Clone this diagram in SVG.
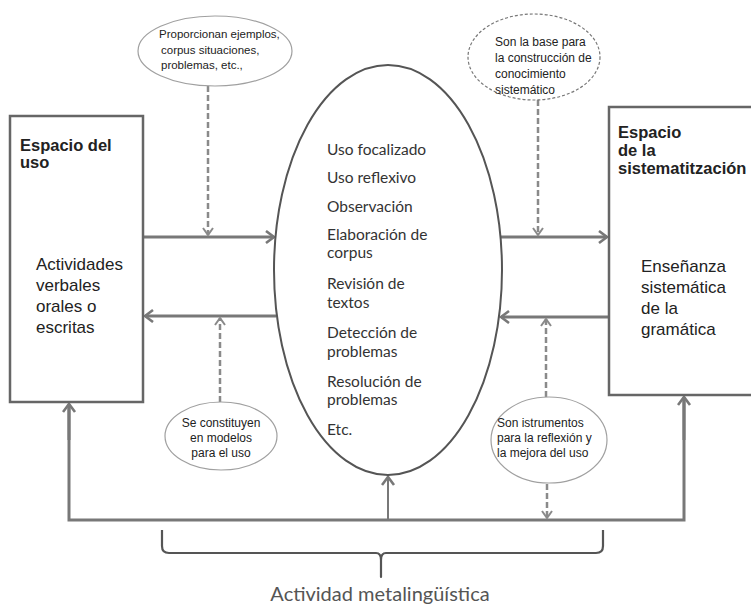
<svg xmlns="http://www.w3.org/2000/svg" width="751" height="606" viewBox="0 0 751 606">
<style>
.box{fill:#fff;stroke:#666;stroke-width:2.5}
.main{fill:#fff;stroke:#555;stroke-width:2}
.call{fill:#fff;stroke:#a0a0a0;stroke-width:1.2}
.calld{fill:#fff;stroke:#777;stroke-width:1.2;stroke-dasharray:3 2}
.sol{fill:none;stroke:#787878;stroke-width:3}
.thin{fill:none;stroke:#787878;stroke-width:2}
.dash{fill:none;stroke:#8a8a8a;stroke-width:2.5;stroke-dasharray:6 3}
.brace{fill:none;stroke:#555;stroke-width:2.2;stroke-linejoin:round}
.hd{font-family:"Liberation Sans",Arial,sans-serif;font-weight:bold;font-size:16.5px;fill:#222}
.bt{font-family:"Liberation Sans",Arial,sans-serif;font-size:17px;fill:#222}
.ct{font-family:"Liberation Sans",Arial,sans-serif;font-size:12px;fill:#222}
.et{font-family:Lato,"Open Sans",sans-serif;font-size:15.5px;fill:#333}
.lab{font-family:Lato,"Open Sans",sans-serif;font-size:20px;fill:#555}
</style>
<defs>
<marker id="ah" markerUnits="userSpaceOnUse" markerWidth="14" markerHeight="16" refX="11" refY="7" orient="auto">
<path d="M3,1 L11,7 L3,13" fill="none" stroke="#787878" stroke-width="2.6"/>
</marker>
<marker id="ahd" markerUnits="userSpaceOnUse" markerWidth="14" markerHeight="14" refX="10" refY="6" orient="auto">
<path d="M3,1 L10,6 L3,11" fill="none" stroke="#8a8a8a" stroke-width="2"/>
</marker>
</defs>

<g id="connectors">
<line class="sol" x1="144" y1="237" x2="274" y2="237" marker-end="url(#ah)"/>
<line class="sol" x1="276" y1="316" x2="145" y2="316" marker-end="url(#ah)"/>
<line class="sol" x1="501" y1="237" x2="607" y2="237" marker-end="url(#ah)"/>
<line class="sol" x1="608" y1="317" x2="501" y2="317" marker-end="url(#ah)"/>
<polyline class="sol" points="69,405 69,520 684,520 684,398" />
<line class="sol" x1="69" y1="440" x2="69" y2="404" marker-end="url(#ah)"/>
<line class="sol" x1="684" y1="440" x2="684" y2="397" marker-end="url(#ah)"/>
<line class="thin" x1="388" y1="520" x2="388" y2="477" marker-end="url(#ah)"/>
<line class="dash" x1="208" y1="86" x2="208" y2="235" marker-end="url(#ahd)"/>
<line class="dash" x1="538" y1="100" x2="538" y2="235" marker-end="url(#ahd)"/>
<line class="dash" x1="220" y1="402" x2="220" y2="318" marker-end="url(#ahd)"/>
<line class="dash" x1="546" y1="397" x2="546" y2="319" marker-end="url(#ahd)"/>
<line class="dash" x1="547" y1="484" x2="547" y2="518" marker-end="url(#ahd)"/>
</g>

<g id="espacio-uso">
<rect class="box" x="10" y="116" width="133" height="286"/>
<text class="hd" x="20" y="151">Espacio del</text>
<text class="hd" x="20" y="168">uso</text>
<text class="bt" x="36" y="270">Actividades</text>
<text class="bt" x="36" y="291">verbales</text>
<text class="bt" x="36" y="312">orales o</text>
<text class="bt" x="36" y="333">escritas</text>
</g>

<g id="espacio-sistematitzacion">
<rect class="box" x="609" y="107" width="160" height="288"/>
<text class="hd" x="618" y="138">Espacio</text>
<text class="hd" x="618" y="156">de la</text>
<text class="hd" x="618" y="174">sistematitzación</text>
<text class="bt" x="641" y="272">Enseñanza</text>
<text class="bt" x="641" y="293">sistemática</text>
<text class="bt" x="641" y="314">de la</text>
<text class="bt" x="641" y="335">gramática</text>
</g>

<g id="actividades-centro">
<ellipse class="main" cx="388" cy="270" rx="114" ry="205"/>
<text class="et" x="327" y="155">Uso focalizado</text>
<text class="et" x="327" y="183">Uso reflexivo</text>
<text class="et" x="327" y="212">Observación</text>
<text class="et" x="327" y="240">Elaboración de</text>
<text class="et" x="327" y="258">corpus</text>
<text class="et" x="327" y="289">Revisión de</text>
<text class="et" x="327" y="308">textos</text>
<text class="et" x="327" y="338">Detección de</text>
<text class="et" x="327" y="357">problemas</text>
<text class="et" x="327" y="387">Resolución de</text>
<text class="et" x="327" y="405">problemas</text>
<text class="et" x="327" y="435">Etc.</text>
</g>

<g id="nota-ejemplos">
<ellipse class="call" cx="215" cy="51" rx="77" ry="35"/>
<text class="ct" x="159" y="38" style="font-size:11.5px">Proporcionan ejemplos,</text>
<text class="ct" x="161" y="54" style="font-size:11.5px">corpus situaciones,</text>
<text class="ct" x="161" y="69" style="font-size:11.5px">problemas, etc.,</text>
</g>

<g id="nota-base">
<ellipse class="calld" cx="534" cy="57" rx="66" ry="43"/>
<text class="ct" x="495" y="46">Son la base para</text>
<text class="ct" x="495" y="62">la construcción de</text>
<text class="ct" x="495" y="78">conocimiento</text>
<text class="ct" x="495" y="94">sistemático</text>
</g>

<g id="nota-modelos">
<ellipse class="call" cx="221" cy="436" rx="56" ry="34"/>
<text class="ct" x="221" y="427" text-anchor="middle">Se constituyen</text>
<text class="ct" x="221" y="442" text-anchor="middle">en modelos</text>
<text class="ct" x="221" y="457" text-anchor="middle">para el uso</text>
</g>

<g id="nota-instrumentos">
<ellipse class="call" cx="549" cy="440" rx="58" ry="43"/>
<text class="ct" x="497" y="427">Son istrumentos</text>
<text class="ct" x="497" y="442">para la reflexión y</text>
<text class="ct" x="497" y="457">la mejora del uso</text>
</g>

<g id="actividad-metalinguistica">
<path class="brace" d="M162,530 L162,546 Q162,553 169,553 L376,553 Q381,553 381,560 L381,577 L381,560 Q381,553 386,553 L596,553 Q603,553 603,546 L603,530"/>
<text class="lab" x="380" y="601" text-anchor="middle">Actividad metalingüística</text>
</g>
</svg>
